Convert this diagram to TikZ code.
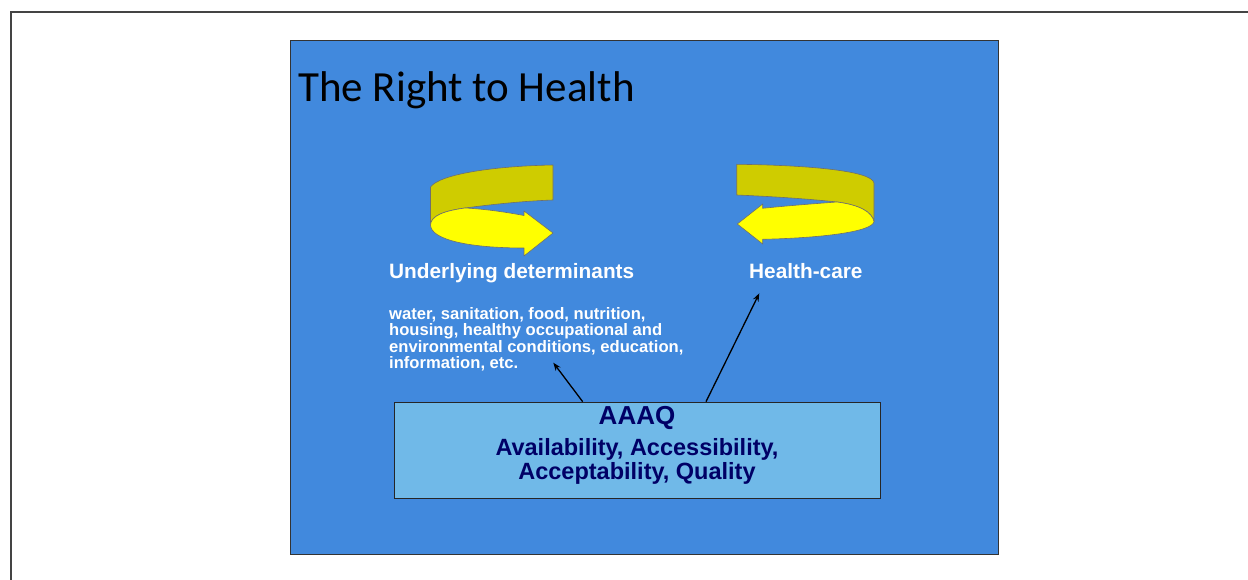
\documentclass[tikz,border=0pt]{standalone}
\usepackage{fontspec}
\setmainfont{Liberation Sans}
\newfontfamily\titlefont{Carlito}
\usetikzlibrary{arrows.meta}
\definecolor{panel}{HTML}{4189DD}
\definecolor{ribolive}{HTML}{CFCC00}
\definecolor{ribyel}{HTML}{FFFF00}
\definecolor{ribline}{HTML}{6E6E6E}
\definecolor{boxblue}{HTML}{70B9E8}
\definecolor{navy}{HTML}{000066}
\definecolor{framegray}{HTML}{444444}
\begin{document}
\begin{tikzpicture}[x=1pt,y=-1pt,
  olivepart/.style={fill=ribolive,draw=ribline,line width=0.6pt,line join=round},
  yelpart/.style={fill=ribyel,draw=ribline,line width=0.6pt,line join=round},
  headtext/.style={text=white,font=\bfseries\fontsize{20.8}{22}\selectfont,inner sep=0pt,anchor=base west},
  smalltext/.style={text=white,font=\bfseries\fontsize{16.6}{16.4}\selectfont,inner sep=0pt,anchor=base west,align=left},
  connector/.style={draw=black,line width=1.3pt,-{Stealth[length=8pt,width=6pt]}}]
\useasboundingbox (0,0) rectangle (1248,580);
% outer frame
\draw[framegray,line width=1.4pt] (1248,12) -- (11,12) -- (11,580);
% panel
\node[draw=black!80,fill=panel,line width=0.8pt,minimum width=708pt,minimum height=514pt,inner sep=0pt,anchor=north west] (panel) at (290,40) {};
% title
\node[anchor=base west,inner sep=0pt,font=\titlefont\fontsize{43}{46}\selectfont] (title) at (298,102) {The Right to Health};
% left ribbon
\path[olivepart] (553,165) .. controls (495,166) and (440,174) .. (430.5,187) -- (430.5,225) .. controls (431,216) and (443,211) .. (465,208) .. controls (495,204) and (525,201) .. (553,200) -- cycle;
\path[yelpart] (430.5,225) .. controls (431,216) and (443,211) .. (465,208) .. controls (485,209) and (505,212) .. (524,215.5) -- (524,211) -- (553,233) -- (524,256) -- (524,248) .. controls (470,248) and (431,240) .. (430.5,225) -- cycle;
% right ribbon
\path[olivepart] (736.7,164.3) .. controls (800,165) and (872,170) .. (874,183) -- (874,221.7) .. controls (872,212) and (860,205) .. (837,202) .. controls (800,198) and (760,196) .. (736.7,195) -- cycle;
\path[yelpart] (874,221.7) .. controls (872,212) and (860,205) .. (837,202) .. controls (810,204) and (785,206) .. (762.7,208.3) -- (762.7,204) -- (737.3,224) -- (762.7,244) -- (762.7,239.3) .. controls (820,238) and (872,232) .. (874,221.7) -- cycle;
% labels
\node[headtext] (under) at (389,279) {Underlying determinants};
\node[headtext] (care) at (749,279) {Health-care};
\node[smalltext] (list) at (389,368.5) {water, sanitation, food, nutrition,\\housing, healthy occupational and\\environmental conditions, education,\\information, etc.};
% AAAQ box
\node[draw=black!85,fill=boxblue,line width=0.8pt,minimum width=486pt,minimum height=96.6pt,inner sep=0pt,anchor=north west] (box) at (394.3,401.7) {};
\node[text=navy,font=\bfseries\fontsize{26}{28}\selectfont,inner sep=0pt,anchor=base] (aaaq) at (637,424.3) {AAAQ};
\node[text=navy,font=\bfseries\fontsize{23.5}{24.3}\selectfont,inner sep=0pt,anchor=base,align=center] (aaaqtext) at (637,479.3) {Availability, Accessibility,\\Acceptability, Quality};
% connectors
\coordinate (s1) at (582.7,401.7);
\coordinate (t1) at (553.3,362.7);
\coordinate (s2) at (706,401.7);
\coordinate (t2) at (759.3,293.3);
\draw[connector] (s1) -- (t1);
\draw[connector] (s2) -- (t2);
\end{tikzpicture}
\end{document}
